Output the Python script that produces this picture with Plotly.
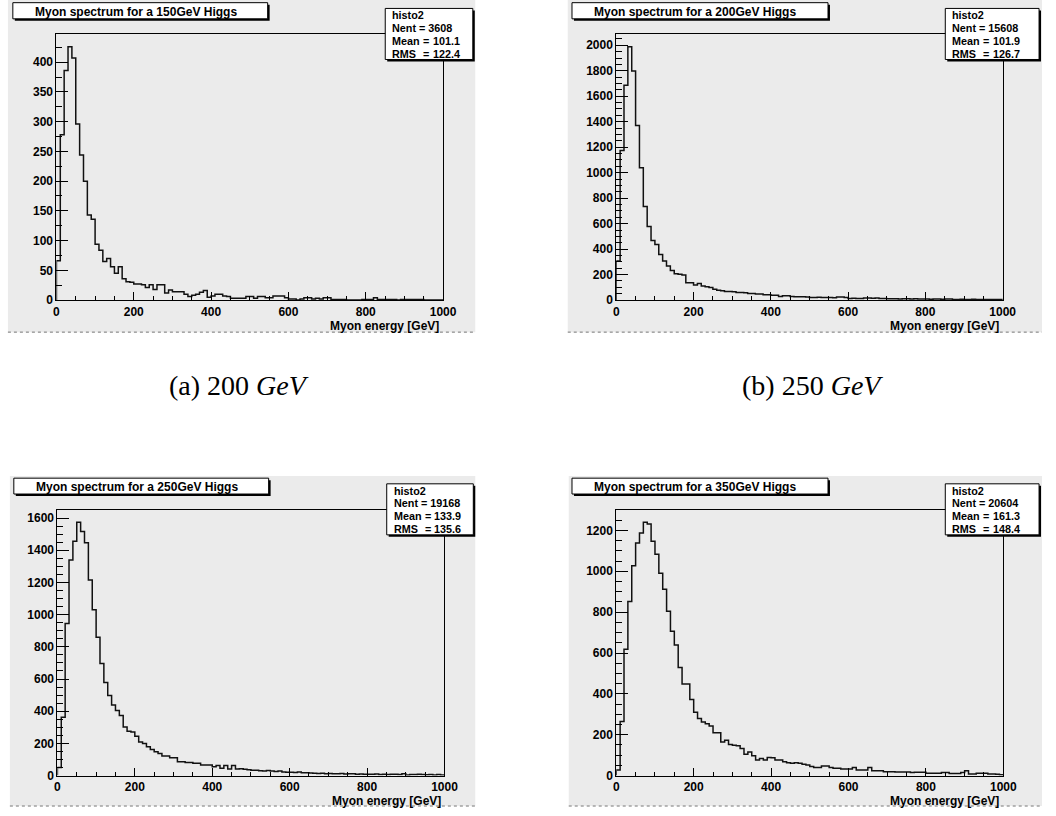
import numpy as np
import plotly.graph_objects as go

# ---------------- data ----------------
BIN_WIDTH = 10          # GeV per bin
X_MAX = 1000            # GeV

titles = ["Myon spectrum for a 150GeV Higgs", "Myon spectrum for a 200GeV Higgs",
          "Myon spectrum for a 250GeV Higgs", "Myon spectrum for a 350GeV Higgs"]
hist_name = "histo2"
nent = [3608, 15608, 19168, 20604]
mean = ["101.1", "101.9", "133.9", "161.3"]
rms = ["122.4", "126.7", "135.6", "148.4"]
captions = ["(a) 200 <i>GeV</i>", "(b) 250 <i>GeV</i>"]
x_title = "Myon energy [GeV]"

counts_150 = [66, 278, 386, 426, 407, 296, 244, 200, 143, 136,
              94, 84, 65, 70, 56, 45, 56, 36, 31, 30,
              27, 27, 26, 21, 26, 18, 26, 26, 12, 17,
              14, 14, 14, 10, 6, 8, 10, 13, 16, 5,
              7, 10, 10, 7, 6, 3, 3, 3, 3, 6,
              6, 3, 6, 6, 4, 4, 7, 7, 7, 4,
              2, 2, 0, 2, 4, 4, 2, 3, 2, 4,
              4, 1, 1, 1, 1, 0, 0, 0, 0, 1,
              1, 1, 4, 1, 1, 1, 1, 1, 0, 1,
              1, 1, 1, 1, 1, 0, 0, 0, 0, 0]

counts_200 = [306, 1175, 1686, 1989, 1798, 1370, 1038, 734, 578, 467,
              436, 358, 306, 267, 233, 207, 202, 197, 137, 137,
              119, 130, 110, 104, 99, 86, 78, 73, 67, 67,
              65, 60, 60, 58, 52, 52, 47, 47, 42, 42,
              39, 39, 29, 34, 34, 29, 26, 26, 26, 24,
              21, 21, 23, 21, 20, 21, 19, 24, 24, 21,
              13, 14, 13, 12, 16, 16, 15, 16, 13, 12,
              10, 11, 10, 9, 10, 10, 9, 10, 8, 8,
              8, 7, 8, 8, 7, 8, 8, 5, 5, 6,
              5, 5, 6, 5, 4, 5, 5, 4, 5, 4]

counts_250 = [50, 363, 945, 1339, 1456, 1574, 1517, 1446, 1216, 1031,
              860, 696, 579, 497, 439, 405, 374, 302, 275, 271,
              244, 209, 199, 179, 162, 148, 138, 121, 121, 111,
              111, 86, 86, 82, 82, 76, 76, 66, 66, 66,
              55, 62, 45, 62, 41, 62, 41, 43, 39, 36,
              33, 33, 30, 28, 32, 28, 26, 28, 22, 20,
              20, 19, 22, 18, 17, 16, 14, 13, 15, 12,
              13, 12, 11, 13, 10, 12, 11, 9, 10, 8,
              9, 8, 10, 7, 8, 6, 8, 9, 7, 12,
              4, 6, 7, 8, 6, 5, 7, 4, 6, 3]

counts_350 = [27, 265, 618, 852, 1027, 1139, 1187, 1240, 1232, 1147,
              1084, 990, 912, 804, 707, 639, 529, 448, 448, 372,
              310, 280, 262, 254, 243, 210, 210, 165, 173, 152,
              149, 146, 133, 105, 116, 97, 76, 84, 76, 89,
              87, 76, 76, 68, 63, 60, 63, 60, 55, 52,
              44, 40, 40, 47, 47, 39, 36, 36, 32, 32,
              32, 39, 27, 27, 27, 39, 24, 24, 24, 19,
              19, 19, 18, 18, 18, 18, 15, 16, 16, 16,
              11, 11, 11, 11, 15, 15, 10, 10, 10, 15,
              24, 8, 8, 11, 11, 11, 8, 8, 6, 4]

all_counts = [counts_150, counts_200, counts_250, counts_350]
y_major = [50, 200, 200, 200]
y_minor = [25, 50, 50, 50]

# ---------------- layout geometry (pixels) ----------------
W, H = 1056, 816
panels = [
    dict(frame=(54.3, 447.3, 34.3, 302.7), pad=(5, 480, 0, 335),
         tbox=(10, 269, 2.7, 19.0), sbox=(388.5, 477.5, 8.5, 60.0)),
    dict(frame=(623.3, 1016.0, 34.3, 302.7), pad=(574, 1056, 0, 335),
         tbox=(578.3, 838.5, 2.7, 19.0), sbox=(957.7, 1053.0, 8.5, 60.0)),
    dict(frame=(55.3, 448.7, 514.0, 782.3), pad=(7, 480, 480, 813),
         tbox=(11, 270, 482.3, 498.3), sbox=(390, 478, 488.0, 539.5)),
    dict(frame=(623.3, 1016.7, 514.0, 782.3), pad=(575, 1056, 480, 813),
         tbox=(578.3, 838.5, 482.3, 498.3), sbox=(957.7, 1053.0, 488.0, 539.5)),
]
caption_pos = [(240, 389), (823, 389)]

PAD_BG = "#ebebeb"
SANS = "Liberation Sans"


def fx(x):
    return x / W


def fy(y):
    return 1 - y / H


def step_xy(counts):
    c = np.asarray(counts, dtype=float)
    edges = np.arange(len(c) + 1) * BIN_WIDTH
    xs = np.concatenate([[edges[0]], edges[:-1], [edges[-1]], [edges[-1]]])
    ys = np.concatenate([[0.0], c, [c[-1]], [0.0]])
    return xs, ys


fig = go.Figure()
shapes = []
annotations = []
layout_axes = {}

# pad backgrounds first (below everything)
for p in panels:
    x0, x1, y0, y1 = p["pad"]
    shapes.append(dict(type="rect", xref="paper", yref="paper",
                       x0=fx(x0), x1=fx(x1), y0=fy(y1), y1=fy(y0),
                       fillcolor=PAD_BG, line=dict(width=0), layer="below"))
    shapes.append(dict(type="line", xref="paper", yref="paper",
                       x0=fx(x0), x1=fx(x1), y0=fy(y1), y1=fy(y1),
                       line=dict(color="#777777", width=1, dash="dot"), layer="below"))

for i, (p, counts) in enumerate(zip(panels, all_counts)):
    sfx = "" if i == 0 else str(i + 1)
    xs, ys = step_xy(counts)
    fig.add_trace(go.Scatter(x=xs, y=ys, mode="lines", line_shape="hv",
                             line=dict(color="#111111", width=1.5),
                             xaxis="x" + sfx, yaxis="y" + sfx,
                             showlegend=False, hoverinfo="skip"))
    fx0, fx1, fy0, fy1 = p["frame"]
    ymax = max(counts) * 1.05
    tickfont = dict(family=SANS, size=12, color="black", weight="bold")
    layout_axes["xaxis" + sfx] = dict(
        domain=[fx(fx0), fx(fx1)], range=[0, X_MAX], anchor="y" + sfx,
        showline=True, mirror=True, linecolor="black", linewidth=1,
        ticks="inside", ticklen=8, tickwidth=1, tickcolor="black",
        tick0=0, dtick=200, tickfont=tickfont,
        minor=dict(dtick=50, ticklen=4, ticks="inside", tickcolor="black", tickwidth=1),
        showgrid=False, zeroline=False, fixedrange=True)
    layout_axes["yaxis" + sfx] = dict(
        domain=[fy(fy1), fy(fy0)], range=[0, ymax], anchor="x" + sfx,
        showline=True, mirror=True, linecolor="black", linewidth=1,
        ticks="inside", ticklen=12, tickwidth=1, tickcolor="black",
        tick0=0, dtick=y_major[i], tickfont=tickfont,
        minor=dict(dtick=y_minor[i], ticklen=6, ticks="inside", tickcolor="black", tickwidth=1),
        showgrid=False, zeroline=False, fixedrange=True)

    # x axis title, right aligned below tick labels
    annotations.append(dict(text=x_title, xref="paper", yref="paper",
                            x=fx(fx1 - 2), y=fy(fy1 + 17), xanchor="right", yanchor="top",
                            showarrow=False,
                            font=dict(family=SANS, size=12, color="black", weight="bold")))

    # title box with shadow
    tx0, tx1, ty0, ty1 = p["tbox"]
    shapes.append(dict(type="rect", xref="paper", yref="paper",
                       x0=fx(tx0 + 2), x1=fx(tx1 + 2), y0=fy(ty1 + 2), y1=fy(ty0 + 2),
                       fillcolor="black", line=dict(width=0), layer="above"))
    shapes.append(dict(type="rect", xref="paper", yref="paper",
                       x0=fx(tx0), x1=fx(tx1), y0=fy(ty1), y1=fy(ty0),
                       fillcolor="white", line=dict(color="black", width=1), layer="above"))
    annotations.append(dict(text=titles[i], xref="paper", yref="paper",
                            x=fx(tx0 + 20), y=fy((ty0 + ty1) / 2 + 1),
                            xanchor="left", yanchor="middle", showarrow=False,
                            font=dict(family=SANS, size=12, color="black", weight="bold")))

    # stats box with shadow
    sx0, sx1, sy0, sy1 = p["sbox"]
    shapes.append(dict(type="rect", xref="paper", yref="paper",
                       x0=fx(sx0 + 2), x1=fx(sx1 + 2), y0=fy(sy1 + 2), y1=fy(sy0 + 2),
                       fillcolor="black", line=dict(width=0), layer="above"))
    shapes.append(dict(type="rect", xref="paper", yref="paper",
                       x0=fx(sx0), x1=fx(sx1), y0=fy(sy1), y1=fy(sy0),
                       fillcolor="white", line=dict(color="black", width=1), layer="above"))
    sfont = dict(family=SANS, size=10.8, color="black", weight="bold")
    step = (sy1 - sy0) / 4.0
    rows = [(hist_name, None), ("Nent = %d" % nent[i], None),
            ("Mean", mean[i]), ("RMS", rms[i])]
    for k, (lab, val) in enumerate(rows):
        yc = sy0 + step * (k + 0.5) + 0.5
        annotations.append(dict(text=lab, xref="paper", yref="paper",
                                x=fx(sx0 + 5), y=fy(yc), xanchor="left", yanchor="middle",
                                showarrow=False, font=sfont))
        if val is not None:
            annotations.append(dict(text="=", xref="paper", yref="paper",
                                    x=fx(sx0 + 41.5), y=fy(yc), xanchor="center", yanchor="middle",
                                    showarrow=False, font=sfont))
            annotations.append(dict(text=val, xref="paper", yref="paper",
                                    x=fx(sx0 + 78), y=fy(yc), xanchor="right", yanchor="middle",
                                    showarrow=False, font=sfont))

for cap, (cx, cy) in zip(captions, caption_pos):
    annotations.append(dict(text=cap, xref="paper", yref="paper",
                            x=fx(cx), y=fy(cy), xanchor="center", yanchor="middle",
                            showarrow=False,
                            font=dict(family="Liberation Serif", size=28, color="black")))

fig.update_layout(width=W, height=H, autosize=False,
                  margin=dict(l=0, r=0, t=0, b=0, pad=0),
                  paper_bgcolor="white", plot_bgcolor=PAD_BG,
                  shapes=shapes, annotations=annotations, showlegend=False,
                  **layout_axes)

fig.write_html("out.html", config={"displayModeBar": False},
               post_script="document.body.style.margin='0';")
